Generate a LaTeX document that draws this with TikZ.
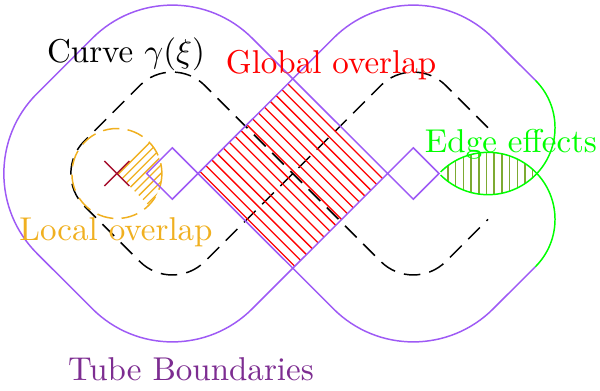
\documentclass[tikz,border=0pt]{standalone}
\definecolor{tubepurple}{RGB}{158,90,245}
\definecolor{textpurple}{RGB}{125,45,145}
\definecolor{goldorange}{RGB}{240,176,32}
\definecolor{crossred}{RGB}{165,15,45}
\definecolor{lensolive}{RGB}{125,170,50}
\tikzset{
  tube/.style={draw=tubepurple, line width=0.45pt},
  curveline/.style={draw=black, line width=0.45pt, dash pattern=on 5pt off 2.8pt},
  capline/.style={draw=green, line width=0.45pt},
  redhatch/.style={draw=red, line width=0.4pt},
  orangehatch/.style={draw=goldorange, line width=0.4pt},
  lenshatch/.style={draw=lensolive, line width=0.45pt},
  lbl/.style={anchor=base, inner sep=0pt}
}
\begin{document}
\begin{tikzpicture}[x=0.303pt, y=-0.303pt]
\useasboundingbox (0,0) rectangle (600,390);

% key points
\coordinate (P1) at (488,127.7);
\coordinate (P2) at (488,219.3);
\coordinate (X) at (292.8,173.5);
\coordinate (O) at (116.9,173.5);

% the curve gamma (dashed figure eight, open at the right)
\draw[curveline, rounded corners=13.94pt] (P1) -- (413.3,53.0) -- (X) -- (172.3,294.0) -- (51.8,173.5) -- (172.3,53.0) -- (X) -- (413.3,294.0) -- (P2);

% global overlap (red hatch)
\begin{scope}
  \clip (292.9,78.7) -- (198.0,173.5) -- (292.8,268.3) -- (387.6,173.5) -- cycle;
  \foreach \i in {0,...,16} {
    \pgfmathsetmacro\c{28.5+11.7*\i}
    \draw[redhatch] ({\c+40},40) -- ({\c+320},320);
  }
\end{scope}

% local overlap (orange osculating circle and hatched sector)
\begin{scope}
  \clip (O) -- ++(-45:45) arc[start angle=-45, end angle=45, radius=45] -- cycle;
  \foreach \i in {0,...,8} {
    \pgfmathsetmacro\bx{116.9+4.2*\i}
    \pgfmathsetmacro\by{173.5+4.2*\i+2}
    \draw[orangehatch] ({\bx-60},{\by+60}) -- ({\bx+60},{\by-60});
  }
\end{scope}
\draw[goldorange, line width=0.45pt, dash pattern=on 5pt off 2.5pt] (O) circle[radius=45];

% edge effects (lens of the two end caps)
\begin{scope}
  \clip (P1) circle[radius=67];
  \clip (P2) circle[radius=67];
  \foreach \i in {0,...,11} {
    \pgfmathsetmacro\xx{448+7.7*\i}
    \draw[lenshatch] (\xx,140) -- (\xx,205);
  }
\end{scope}

% tube boundaries (two offset curves)
\draw[tube] (535.4,80.3) -- (493.2,38.2) arc[start angle=315, end angle=225, radius=113]
  -- (198.0,173.5) -- (172.3,199.2) -- (146.6,173.5) -- (172.3,147.8) -- (198.0,173.5)
  -- (333.4,308.8) arc[start angle=135, end angle=45, radius=113] -- (535.4,266.7);
\draw[tube] (439.0,173.5) -- (413.3,147.8) -- (387.6,173.5) -- (252.2,308.8)
  arc[start angle=45, end angle=135, radius=113] -- (36.95,253.4)
  arc[start angle=135, end angle=225, radius=113] -- (92.4,38.2)
  arc[start angle=225, end angle=315, radius=113] -- (387.6,173.5) -- (413.3,199.2) -- cycle;

% end caps
\draw[capline] (535.4,80.3) arc[start angle=-45, end angle=135, radius=67];
\draw[capline] (535.4,266.7) arc[start angle=45, end angle=-135, radius=67];

% centre of curvature
\draw[crossred, line width=0.4pt] (104.4,161) -- (129.4,186) (104.4,186) -- (129.4,161);

% labels
\node[lbl] (curvelbl) at (126,62) {Curve $\gamma(\xi)$};
\node[lbl, text=red] (globallbl) at (331,73) {Global overlap};
\node[lbl, text=green] (edgelbl) at (511,152) {Edge effects};
\node[lbl, text=goldorange] (locallbl) at (116,240) {Local overlap};
\node[lbl, text=textpurple] (tubelbl) at (191,380) {Tube Boundaries};
\end{tikzpicture}
\end{document}
